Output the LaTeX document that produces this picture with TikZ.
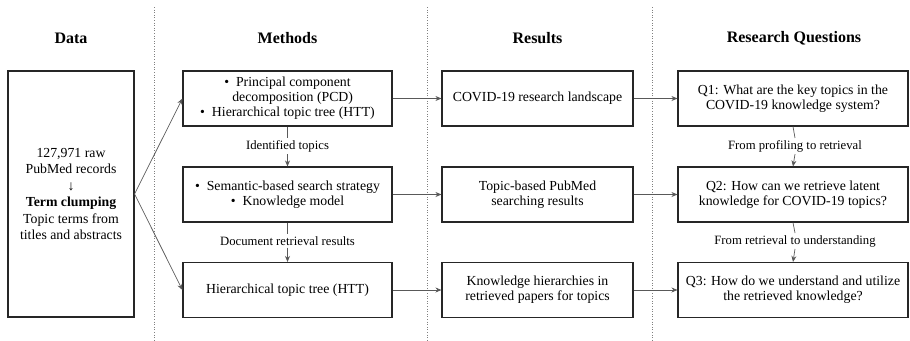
\documentclass[tikz,border=0pt]{standalone}
\usepackage{fontspec}
\setmainfont{Liberation Serif}
\usetikzlibrary{arrows.meta}
\begin{document}
\begin{tikzpicture}[x=1pt, y=-1pt, >={Stealth[length=6pt, width=5pt]},
    font=\fontsize{13.8}{15}\selectfont,
    box/.style={draw=black!85, line width=1.1pt, align=center, inner sep=2pt, minimum height=55pt},
    link/.style={->, gray!70!black, line width=0.7pt},
    note/.style={font=\fontsize{12.7}{14}\selectfont, inner sep=2pt},
    head/.style={font=\fontsize{16}{18}\selectfont\bfseries}]
    \useasboundingbox (0,0) rectangle (910,340);
    % column separators
    \foreach \x in {154,427,652}
        \draw[dotted, gray, line width=0.6pt] (\x,7) -- (\x,340);
    % column titles
    \node[head] (hdata) at (71,38) {Data};
    \node[head] (hmeth) at (287.5,38) {Methods};
    \node[head] (hres) at (537.5,38) {Results};
    \node[head] (hrq) at (794,38) {Research Questions};
    % data
    \node[box, minimum width=126pt, minimum height=246pt, font=\fontsize{13.8}{16.5}\selectfont] (data) at (71,194)
        {127,971 raw\\PubMed records\\↓\\\textbf{Term clumping}\\Topic terms from\\titles and abstracts};
    % methods
    \node[box, minimum width=209pt] (m1) at (287.5,98.5)
        {\textbullet\ \ Principal component\\\ \ \ decomposition (PCD)\\\textbullet\ \ Hierarchical topic tree (HTT)};
    \node[box, minimum width=209pt] (m2) at (287.5,194.5)
        {\textbullet\ \ Semantic-based search strategy\\\textbullet\ \ Knowledge model};
    \node[box, minimum width=209pt] (m3) at (287.5,290) {Hierarchical topic tree (HTT)};
    % results
    \node[box, minimum width=191pt] (r1) at (537.5,98.5) {COVID-19 research landscape};
    \node[box, minimum width=191pt] (r2) at (537.5,194.5) {Topic-based PubMed\\searching results};
    \node[box, minimum width=191pt] (r3) at (537.5,290) {Knowledge hierarchies in\\retrieved papers for topics};
    % research questions
    \node[box, minimum width=230pt] (q1) at (793,98.5) {Q1: What are the key topics in the\\COVID-19 knowledge system?};
    \node[box, minimum width=230pt] (q2) at (793,194.5) {Q2: How can we retrieve latent\\knowledge for COVID-19 topics?};
    \node[box, minimum width=230pt] (q3) at (793,290) {Q3: How do we understand and utilize\\the retrieved knowledge?};
    % links between steps
    \node[note] (t1) at (287.5,146) {Identified topics};
    \node[note] (t2) at (287.5,241) {Document retrieval results};
    \node[note] (t3) at (795,146) {From profiling to retrieval};
    \node[note] (t4) at (795,241) {From retrieval to understanding};
    \draw[gray!70!black, line width=0.7pt] (m1.south) -- (t1.north);
    \draw[link] (t1.south) -- (m2.north);
    \draw[gray!70!black, line width=0.7pt] (m2.south) -- (t2.north);
    \draw[link] (t2.south) -- (m3.north);
    \draw[gray!70!black, line width=0.7pt] (q1.south) -- (t3.north);
    \draw[link] (t3.south) -- (q2.north);
    \draw[gray!70!black, line width=0.7pt] (q2.south) -- (t4.north);
    \draw[link] (t4.south) -- (q3.north);
    \draw[link] (data.east) -- (m1.west);
    \draw[link] (data.east) -- (m3.west);
    \foreach \i in {1,2,3} {
        \draw[link] (m\i.east) -- (r\i.west);
        \draw[link] (r\i.east) -- (q\i.west);
    }
\end{tikzpicture}
\end{document}
